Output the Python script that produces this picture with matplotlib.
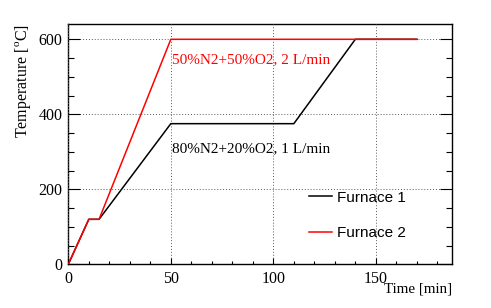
import matplotlib
matplotlib.use("Agg")
import matplotlib.pyplot as plt
from matplotlib.patches import Rectangle
from matplotlib.ticker import MultipleLocator

plt.rcParams['mathtext.fontset'] = 'custom'
plt.rcParams['mathtext.rm'] = 'Liberation Serif'

# Data
furnace1_time = [0, 10, 15, 50, 110, 140, 170]
furnace1_temp = [0, 120, 120, 375, 375, 600, 600]
furnace2_time = [0, 10, 15, 50, 170]
furnace2_temp = [0, 120, 120, 600, 600]
series_labels = ["Furnace 1", "Furnace 2"]
annot_texts = ["50%N2+50%O2, 2 L/min", "80%N2+20%O2, 1 L/min"]
xticks = [0, 50, 100, 150]
yticks = [0, 200, 400, 600]

W, H = 491, 308
fig = plt.figure(figsize=(W / 100, H / 100), dpi=100)
L, R, T, B = 68.3, 451.7, 24.3, 264.3
ax = fig.add_axes([L / W, 1 - B / H, (R - L) / W, (B - T) / H])

ax.set_xlim(0, 187)
ax.set_ylim(0, 640)

serif = 'Liberation Serif'
sans = 'Liberation Sans'

ax.plot(furnace1_time, furnace1_temp, color='black', lw=1.1, label=series_labels[0], zorder=4)
ax.plot(furnace2_time, furnace2_temp, color='red', lw=1.1, label=series_labels[1], zorder=5)

# grid
ax.set_axisbelow(False)
ax.grid(True, which='major', color='0.35', linestyle=(0, (1, 2)), lw=0.7, zorder=1)
for gl in ax.get_xgridlines() + ax.get_ygridlines():
    gl.set_zorder(1)

ax.set_xticks(xticks)
ax.set_yticks(yticks)
ax.xaxis.set_minor_locator(MultipleLocator(10))
ax.yaxis.set_minor_locator(MultipleLocator(50))
ax.tick_params(axis='x', which='major', direction='in', length=4.3, width=0.8, top=False, pad=5)
ax.tick_params(axis='x', which='minor', direction='in', length=2.2, width=0.8, top=False)
ax.tick_params(axis='y', which='major', direction='in', length=8.6, width=0.8, right=True, pad=4)
ax.tick_params(axis='y', which='minor', direction='in', length=4.3, width=0.8, right=True)
for lab in ax.get_xticklabels() + ax.get_yticklabels():
    lab.set_fontfamily(serif)
    lab.set_fontsize(11.5)
for s in ax.spines.values():
    s.set_linewidth(1.0)

ax.set_ylabel('Temperature [$^{\\rm o}$C]', fontfamily=serif, fontsize=11.5, loc='top')
ax.yaxis.set_label_coords(-0.092, 1.0)
ax.set_xlabel('Time [min]', fontfamily=serif, fontsize=10.8, loc='right')
ax.xaxis.set_label_coords(1.0, -0.076)

ax.text(50.5, 536, annot_texts[0], color='red', fontfamily=serif, fontsize=11, va='baseline', ha='left', zorder=6)
ax.text(50.5, 299, annot_texts[1], color='black', fontfamily=serif, fontsize=11, va='baseline', ha='left', zorder=6)

# legend background box (hides grid)
x0 = (303 - L) / (R - L); x1 = (434.3 - L) / (R - L)
y0 = (B - 251.7) / (B - T); y1 = (B - 176.7) / (B - T)
ax.add_patch(Rectangle((x0, y0), x1 - x0, y1 - y0, transform=ax.transAxes,
                       facecolor='white', edgecolor='none', zorder=2))
leg = ax.legend(loc='upper left', bbox_to_anchor=((309 - L) / (R - L), (B - 190.5) / (B - T)),
                frameon=False, borderpad=0, borderaxespad=0, handlelength=1.5,
                handletextpad=0.33, labelspacing=1.4, prop={'family': sans, 'size': 11})
leg.set_zorder(7)

fig.savefig('out.png', dpi=100)
